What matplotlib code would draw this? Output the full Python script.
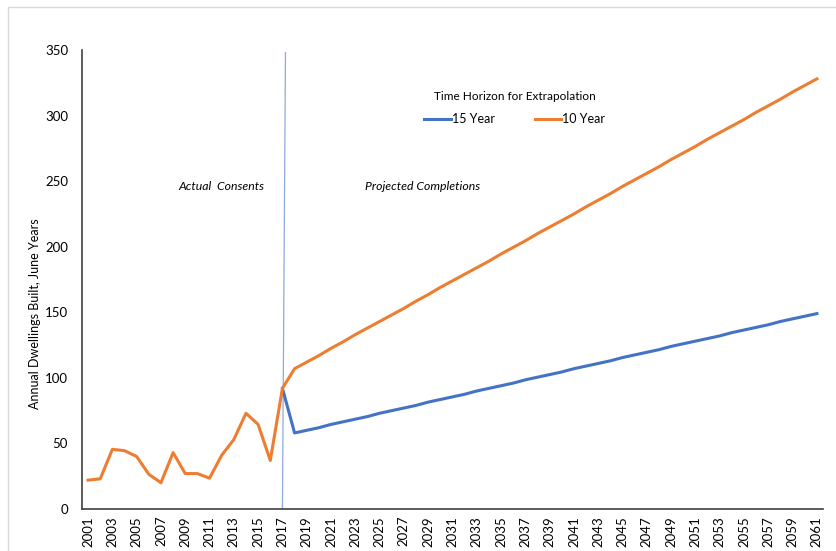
import matplotlib.pyplot as plt
from matplotlib.patches import Rectangle

plt.rcParams['font.family'] = ['Lato', 'DejaVu Sans']

# Actual consents, June years 2001-2017
actual_years = list(range(2001, 2018))
actual = [22, 23, 45.5, 44.5, 40, 26.5, 20, 43, 27, 27, 23.5, 41, 53, 73, 64.5, 37, 92]

# Projected completions 2017-2061
proj_years = list(range(2017, 2062))
proj_10yr = [92, 107, 112, 117, 122.5, 127.5, 133, 138, 143, 148, 153, 158.5, 163.5,
             169, 174, 179, 184, 189, 194.5, 199.5, 204.5, 210, 215, 220, 225, 230.5,
             235.5, 240.5, 246, 251, 256, 261, 266.5, 271.5, 276.5, 282, 287, 292, 297,
             302.5, 307.5, 312.5, 318, 323, 328]
proj_15yr = [92, 58, 60, 62, 64.5, 66.5, 68.5, 70.5, 73, 75, 77, 79, 81.5, 83.5,
             85.5, 87.5, 90, 92, 94, 96, 98.5, 100.5, 102.5, 104.5, 107, 109, 111,
             113, 115.5, 117.5, 119.5, 121.5, 124, 126, 128, 130, 132, 134.5, 136.5,
             138.5, 140.5, 143, 145, 147, 149]

blue = '#4472c4'
orange = '#ed7d31'

fig = plt.figure(figsize=(8.37, 5.51), dpi=100)
ax = fig.add_axes([82 / 837, 1 - 509 / 551, 741 / 837, 459 / 551])

# light chart-area border
fig.patches.append(Rectangle((8 / 837, -0.1), 1.2, 1 - 7 / 551 + 0.1,
                             transform=fig.transFigure, fill=False,
                             edgecolor='#d9d9d9', linewidth=1))

ax.plot(proj_years, proj_15yr, color=blue, linewidth=2.2, label='15 Year')
ax.plot(actual_years + proj_years[1:], actual + proj_10yr[1:], color=orange,
        linewidth=2.2, label='10 Year')

# divider between actual and projected
ax.plot([2017, 2017.25], [0, 348], color='#8faadc', linewidth=0.9, zorder=1)

ax.set_xlim(2000.5, 2061.5)
ax.set_ylim(0, 350)
ax.set_yticks(range(0, 351, 50))
ax.set_xticks(range(2001, 2062, 2))
ax.set_xticklabels([str(y) for y in range(2001, 2062, 2)], rotation=90)
ax.tick_params(axis='both', length=0, labelsize=9.5, colors='#000000')
ax.tick_params(axis='y', pad=10)
ax.tick_params(axis='x', pad=5)
for side in ['top', 'right']:
    ax.spines[side].set_visible(False)
for side in ['left', 'bottom']:
    ax.spines[side].set_color('#404040')
    ax.spines[side].set_linewidth(1.2)

fig.text(35 / 837, 1 - 314 / 551, 'Annual Dwellings Built, June Years',
         rotation=90, ha='center', va='center', fontsize=9)

ax.text(2012.0, 246, 'Actual  Consents', style='italic', fontsize=8.8,
        ha='center', va='center')
ax.text(2028.5, 246, 'Projected Completions', style='italic', fontsize=8.8,
        ha='center', va='center')

leg = ax.legend(title='Time Horizon for Extrapolation', ncol=2, frameon=False,
                loc='center', bbox_to_anchor=((515 - 82) / 741, (551 - 108 - 42) / 459),
                fontsize=9, title_fontsize=8.5, handlelength=2.1, handletextpad=0.1,
                columnspacing=3.2, labelspacing=0.9)

fig.savefig('out.png', dpi=100)
